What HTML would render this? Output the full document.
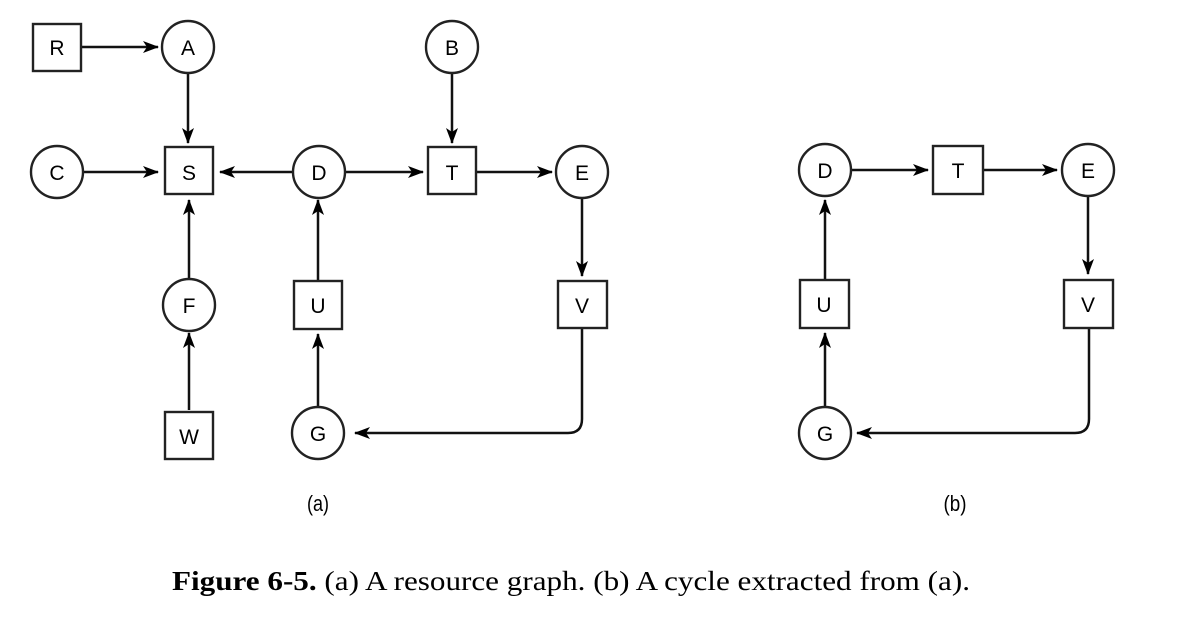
<!DOCTYPE html>
<html><head><meta charset="utf-8"><style>
html,body{margin:0;padding:0;background:#fff;}
svg{display:block;}
</style></head><body>
<svg width="1187" height="624" viewBox="0 0 1187 624" xmlns="http://www.w3.org/2000/svg">
<defs>
<marker id="ah" markerWidth="16" markerHeight="12" refX="15" refY="6" orient="auto" markerUnits="userSpaceOnUse">
<path d="M0,0 L16,6 L0,12 L4,6 Z" fill="#000"/>
</marker>
</defs>
<g stroke="#111" stroke-width="2.5" fill="none" marker-end="url(#ah)">
<line x1="81" y1="47" x2="158" y2="47"/>
<line x1="188" y1="73" x2="188" y2="143"/>
<line x1="83" y1="172" x2="158" y2="172"/>
<line x1="293" y1="172" x2="220" y2="172"/>
<line x1="345" y1="172" x2="423" y2="172"/>
<line x1="452" y1="73" x2="452" y2="143"/>
<line x1="477" y1="172" x2="552" y2="172"/>
<line x1="582" y1="198" x2="582" y2="276"/>
<line x1="189" y1="279" x2="189" y2="200"/>
<line x1="189" y1="410" x2="189" y2="333"/>
<line x1="318" y1="281" x2="318" y2="200"/>
<line x1="318" y1="407" x2="318" y2="334"/>
<path d="M582,328 L582,419 Q582,433 568,433 L355,433"/>
<line x1="851" y1="170" x2="928" y2="170"/>
<line x1="983" y1="170" x2="1057" y2="170"/>
<line x1="1088" y1="196" x2="1088" y2="274"/>
<line x1="825" y1="280" x2="825" y2="200"/>
<line x1="825" y1="407" x2="825" y2="333"/>
<path d="M1089,328 L1089,419 Q1089,433 1075,433 L857,433"/>
</g>
<g stroke="#222" stroke-width="2.4" fill="#fff">
<rect x="33" y="24" width="48" height="47"/>
<circle cx="188" cy="47" r="26"/>
<circle cx="452" cy="47" r="26"/>
<circle cx="57" cy="172" r="26"/>
<rect x="165" y="147" width="48" height="47"/>
<circle cx="319" cy="172" r="26"/>
<rect x="428" y="147" width="48" height="47"/>
<circle cx="582" cy="172" r="26"/>
<circle cx="189" cy="305" r="26"/>
<rect x="294" y="281" width="48" height="48"/>
<rect x="558" y="281" width="49" height="47"/>
<rect x="165" y="412" width="48" height="47"/>
<circle cx="318" cy="433" r="26"/>
<circle cx="825" cy="170" r="26"/>
<rect x="933" y="146" width="50" height="48"/>
<circle cx="1088" cy="170" r="26"/>
<rect x="800" y="280" width="49" height="48"/>
<rect x="1064" y="280" width="49" height="48"/>
<circle cx="825" cy="433" r="26"/>
</g>
<g font-family="Liberation Sans, sans-serif" font-size="21" text-anchor="middle" fill="#000">
<text x="57" y="55">R</text>
<text x="188" y="55">A</text>
<text x="452" y="55">B</text>
<text x="57" y="180">C</text>
<text x="189" y="180">S</text>
<text x="319" y="180">D</text>
<text x="452" y="180">T</text>
<text x="582" y="180">E</text>
<text x="189" y="313">F</text>
<text x="318" y="313">U</text>
<text x="582" y="313">V</text>
<text x="189" y="444">W</text>
<text x="318" y="441">G</text>
<text x="825" y="178">D</text>
<text x="958" y="178">T</text>
<text x="1088" y="178">E</text>
<text x="824" y="312">U</text>
<text x="1088" y="312">V</text>
<text x="825" y="441">G</text>
<text x="318" y="511" font-size="22" textLength="22" lengthAdjust="spacingAndGlyphs">(a)</text>
<text x="955" y="511" font-size="22" textLength="23" lengthAdjust="spacingAndGlyphs">(b)</text>
</g>
<text x="172" y="590" font-family="Liberation Serif, serif" font-size="27" fill="#000" textLength="798" lengthAdjust="spacingAndGlyphs"><tspan font-weight="bold">Figure 6-5.</tspan> (a) A resource graph. (b) A cycle extracted from (a).</text>
</svg>
</body></html>
